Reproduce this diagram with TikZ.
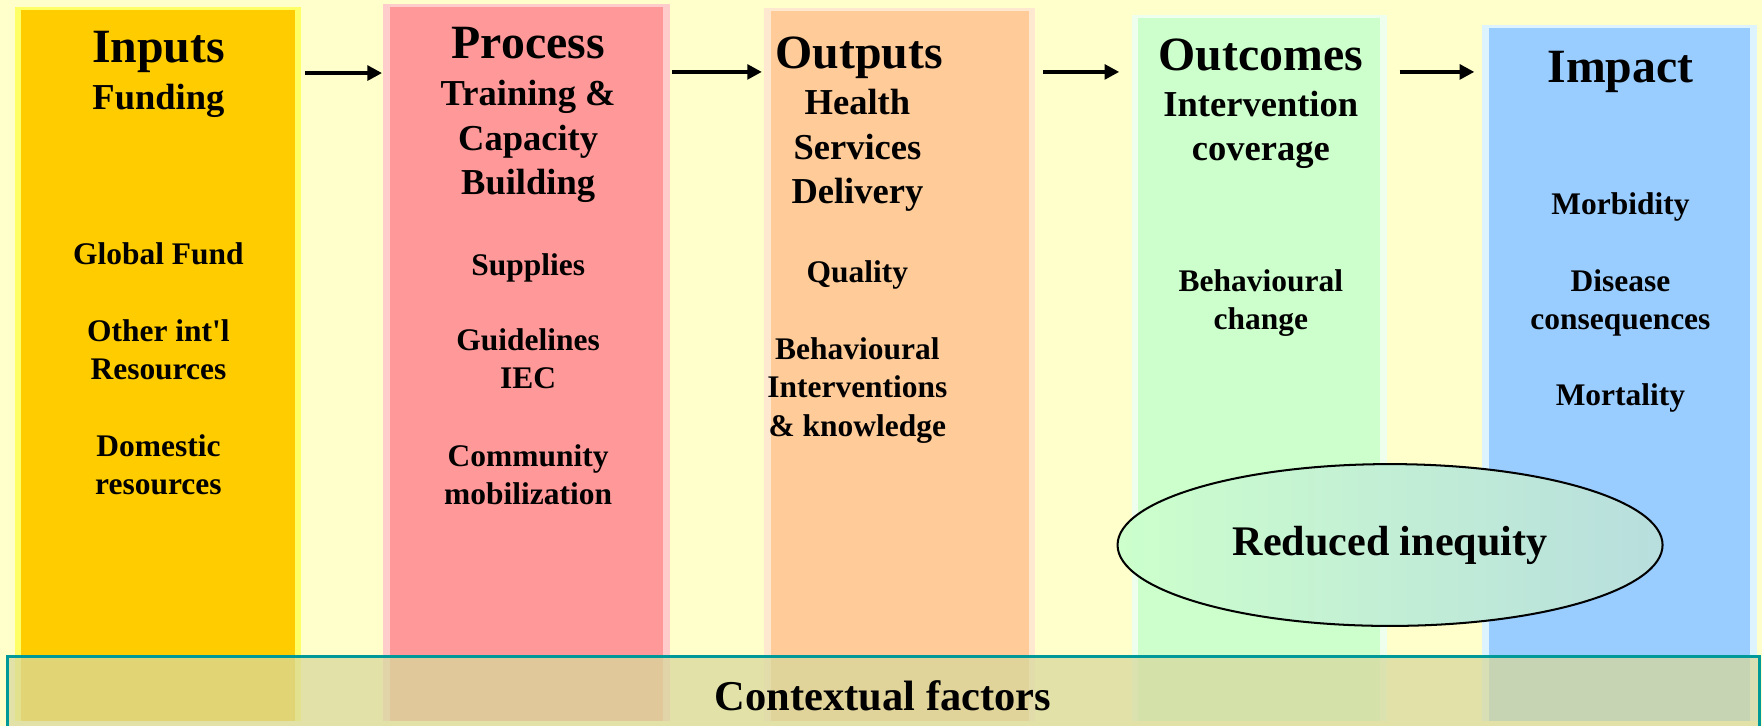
\documentclass[tikz,border=0pt]{standalone}
\usepackage{fontspec}
\setmainfont{Liberation Serif}
\usepackage{textcomp}
\usetikzlibrary{arrows.meta, calc, shapes.geometric}
\definecolor{bgcolor}{HTML}{FFFFCC}
\definecolor{inputsmain}{HTML}{FFCC00}
\definecolor{inputslight}{HTML}{FFFF66}
\definecolor{processmain}{HTML}{FF9999}
\definecolor{processlight}{HTML}{FFCCCC}
\definecolor{outputsmain}{HTML}{FFCC99}
\definecolor{outputslight}{HTML}{FFE8D0}
\definecolor{outcomesmain}{HTML}{CCFFCC}
\definecolor{outcomeslight}{HTML}{EEFFEE}
\definecolor{impactmain}{HTML}{99CCFF}
\definecolor{impactlight}{HTML}{DDF4FF}
\definecolor{contextfill}{HTML}{D7D89C}
\definecolor{contextdraw}{HTML}{009999}
\definecolor{equityleft}{HTML}{CCFFCC}
\definecolor{equityright}{HTML}{B8DEDE}
\tikzset{
  col_box/.style={anchor=north west, inner sep=0pt},
  col_head/.style={anchor=base, inner sep=0pt, font=\fontsize{42.5}{48}\selectfont\bfseries},
  col_sub/.style={anchor=base, inner sep=0pt, align=center, font=\fontsize{32.5}{39.5}\selectfont\bfseries},
  col_item/.style={anchor=base, inner sep=0pt, align=center, font=\fontsize{28}{34}\selectfont\bfseries},
  flow_arrow/.style={line width=3.5pt, -{Triangle[length=13pt, width=13pt]}},
  equity_node/.style={ellipse, draw=black, line width=1.8pt, left color=equityleft, right color=equityright, minimum width=485pt, minimum height=144pt, inner sep=0pt, font=\fontsize{37.5}{42}\selectfont\bfseries},
  context_node/.style={anchor=north west, draw=contextdraw, line width=2.7pt, fill=contextfill, fill opacity=0.75, text opacity=1, inner sep=0pt, font=\fontsize{37.8}{42}\selectfont\bfseries}
}
\begin{document}
\begin{tikzpicture}[x=1pt, y=-1pt]
\useasboundingbox (0,0) rectangle (1568,646);
\fill[bgcolor] (0,0) rectangle (1568,646);
% column boxes
\node[col_box, fill=inputslight, minimum width=255pt, minimum height=635pt] (inputs_box) at (13,6) {};
\fill[inputsmain] ($(inputs_box.north west)+(6,3)$) rectangle ($(inputs_box.south east)+(-6,0)$);
\node[col_box, fill=processlight, minimum width=255pt, minimum height=638pt] (process_box) at (341,3) {};
\fill[processmain] ($(process_box.north west)+(6,3)$) rectangle ($(process_box.south east)+(-6,0)$);
\node[col_box, fill=outputslight, minimum width=241pt, minimum height=634pt] (outputs_box) at (680,7) {};
\fill[outputsmain] ($(outputs_box.north west)+(6,3)$) rectangle ($(outputs_box.south east)+(-6,0)$);
\node[col_box, fill=outcomeslight, minimum width=227pt, minimum height=628pt] (outcomes_box) at (1007,13) {};
\fill[outcomesmain] ($(outcomes_box.north west)+(6,3)$) rectangle ($(outcomes_box.south east)+(-6,0)$);
\node[col_box, fill=impactlight, minimum width=244pt, minimum height=619pt] (impact_box) at (1319,22) {};
\fill[impactmain] ($(impact_box.north west)+(6,3)$) rectangle ($(impact_box.south east)+(-6,0)$);
% arrows between columns
\draw[flow_arrow] ($(inputs_box.north east)+(3,59)$) -- ($(process_box.north west)+(-1,62)$);
\draw[flow_arrow] ($(process_box.north east)+(2,61)$) -- ($(outputs_box.north west)+(-2,57)$);
\draw[flow_arrow] ($(outputs_box.north east)+(7,57)$) -- ($(outcomes_box.north west)+(-11,51)$);
\draw[flow_arrow] ($(outcomes_box.north east)+(11,51)$) -- ($(impact_box.north west)+(-7,42)$);
% inputs (multi-line nodes sit on their last baseline)
\node[col_head] (inputs_title) at (141,56) {Inputs};
\node[col_sub] (inputs_sub) at (141,97) {Funding};
\node[col_item] (inputs_item_0) at (141,235) {Global Fund};
\node[col_item] (inputs_item_1) at (141,338) {Other int\textquotesingle l\\Resources};
\node[col_item] (inputs_item_2) at (141,440) {Domestic\\resources};
% process
\node[col_head] (process_title) at (470,52) {Process};
\node[col_sub] (process_sub) at (470,173) {Training \&\\Capacity\\Building};
\node[col_item] (process_item_0) at (470,245) {Supplies};
\node[col_item] (process_item_1) at (470,346) {Guidelines\\IEC};
\node[col_item] (process_item_2) at (470,449) {Community\\mobilization};
% outputs
\node[col_head, anchor=base west] (outputs_title) at (690,61) {Outputs};
\node[col_sub] (outputs_sub) at (763,181) {Health\\Services\\Delivery};
\node[col_item] (outputs_item_0) at (763,251) {Quality};
\node[col_item] (outputs_item_1) at (763,388) {Behavioural\\Interventions\\\& knowledge};
% outcomes
\node[col_head] (outcomes_title) at (1122,63) {Outcomes};
\node[col_sub] (outcomes_sub) at (1122,143) {Intervention\\coverage};
\node[col_item] (outcomes_item_0) at (1122,293) {Behavioural\\change};
% impact
\node[col_head] (impact_title) at (1442,73) {Impact};
\node[col_item] (impact_item_0) at (1442,191) {Morbidity};
\node[col_item] (impact_item_1) at (1442,293) {Disease\\consequences};
\node[col_item] (impact_item_2) at (1442,361) {Mortality};
% ellipse and contextual band
\node[equity_node] (equity) at (1237,485) {Reduced inequity};
\node[context_node, minimum width=1559pt, minimum height=70pt] (context) at (5,583) {Contextual factors};
\end{tikzpicture}
\end{document}
